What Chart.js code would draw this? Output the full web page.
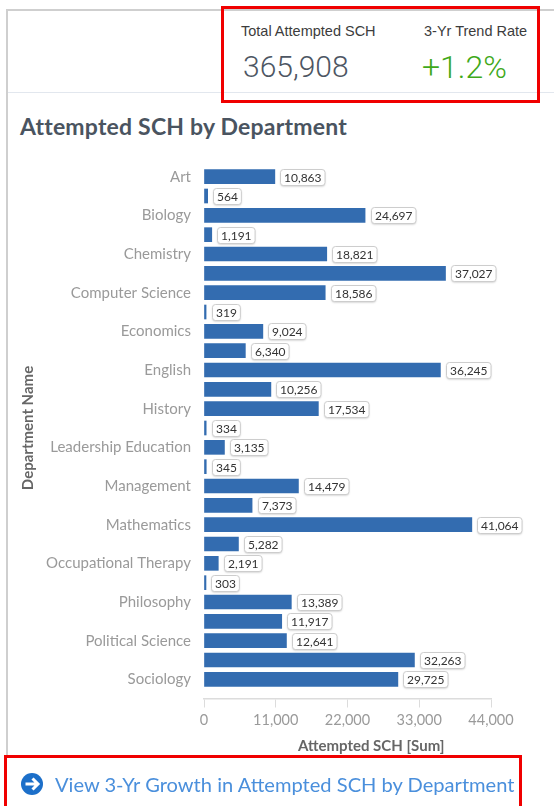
<!DOCTYPE html>
<html>
<head>
<meta charset="utf-8">
<script src="https://cdn.jsdelivr.net/npm/chart.js@4"></script>
<style>
  html, body { margin: 0; padding: 0; background: #fff; }
  body { width: 554px; height: 806px; position: relative; overflow: hidden; font-family: Lato, sans-serif; }
  #chart { position: absolute; left: 0; top: 0; }
  .abs { position: absolute; white-space: nowrap; }
  .panel-top { left: 6px; top: 9px; width: 548px; height: 2px; background: #cfcfcf; }
  .panel-left { left: 6px; top: 9px; width: 2px; height: 747px; background: #cfcfcf; }
  .rule { left: 8px; top: 92px; width: 546px; height: 1px; background: #e2e7ee; }
  .frame { border: 3px solid #f00000; box-sizing: border-box; }
  .kpi-label { font: 14.5px "Liberation Sans", Arial, sans-serif; color: #3c3c3c; }
  .kpi-value { font: 300 31px Roboto, sans-serif; }
  h1 { margin: 0; font: 700 23px Lato, sans-serif; color: #4a5460; letter-spacing: 0.2px; }
  .link { font: 400 20.1px Lato, sans-serif; color: #4a8fdc; }
  .x-title { font: 700 15px Lato, sans-serif; color: #666; }
</style>
</head>
<body>
<div class="abs panel-top"></div>
<div class="abs panel-left"></div>
<div class="abs rule"></div>

<div class="abs kpi-label" style="left:241px;top:23px">Total Attempted SCH</div>
<div class="abs kpi-label" style="left:424px;top:23px">3-Yr Trend Rate</div>
<div class="abs kpi-value" style="left:243px;top:49px;font-size:30px;color:#4d5663">365,908</div>
<div class="abs kpi-value" style="left:422px;top:48px;font-size:32px;color:#3fa91a">+1.2%</div>
<h1 class="abs" style="left:20px;top:112px">Attempted SCH by Department</h1>

<canvas id="chart" width="554" height="806"></canvas>

<div class="abs x-title" style="left:298px;top:736px">Attempted SCH [Sum]</div>

<svg class="abs" style="left:20px;top:772px" width="24" height="24" viewBox="0 0 24 24">
  <circle cx="12" cy="12" r="11" fill="#1c6fc9"/>
  <path d="M5.5 12H17M12.5 6.5L18 12L12.5 17.5" fill="none" stroke="#fff" stroke-width="3"/>
</svg>
<div class="abs link" style="left:55px;top:772px">View 3-Yr Growth in Attempted SCH by Department</div>

<div class="abs frame" style="left:221px;top:6px;width:319px;height:97px"></div>
<div class="abs frame" style="left:4px;top:755px;width:518px;height:60px"></div>

<script>
// Attempted student credit hours per department; the axis names only every other row.
const departments = [
  "Art", "", "Biology", "", "Chemistry", "", "Computer Science", "", "Economics", "",
  "English", "", "History", "", "Leadership Education", "", "Management", "",
  "Mathematics", "", "Occupational Therapy", "", "Philosophy", "", "Political Science", "",
  "Sociology"
];
const attemptedSch = [
  10863, 564, 24697, 1191, 18821, 37027, 18586, 319, 9024, 6340,
  36245, 10256, 17534, 334, 3135, 345, 14479, 7373,
  41064, 5282, 2191, 303, 13389, 11917, 12641, 32263,
  29725
];
const xTickStep = 11000;
const xTickMax = 44000;

// Rounded value tags at the end of each bar.
const valueTags = {
  id: "valueTags",
  afterDatasetsDraw(chart) {
    const ctx = chart.ctx;
    const bars = chart.getDatasetMeta(0).data;
    ctx.save();
    ctx.font = '12px Lato, sans-serif';
    ctx.textAlign = "center";
    ctx.textBaseline = "middle";
    bars.forEach((bar, i) => {
      const text = attemptedSch[i].toLocaleString("en-US");
      const w = ctx.measureText(text).width + 7;
      const h = 16;
      const x = bar.x + 5.5;
      const y = bar.y - h / 2;
      ctx.beginPath();
      ctx.roundRect(Math.round(x) + 0.5, Math.round(y) + 0.5, w, h, 3);
      ctx.fillStyle = "#fff";
      ctx.shadowColor = "rgba(0,0,0,0.22)";
      ctx.shadowBlur = 2;
      ctx.shadowOffsetY = 1;
      ctx.fill();
      ctx.shadowColor = "transparent";
      ctx.strokeStyle = "#cdcdcd";
      ctx.lineWidth = 1;
      ctx.stroke();
      ctx.fillStyle = "#333";
      ctx.fillText(text, Math.round(x) + 0.5 + w / 2, Math.round(y) + 0.5 + h / 2 + 0.5);
    });
    ctx.restore();
  }
};

new Chart(document.getElementById("chart"), {
  type: "bar",
  plugins: [valueTags],
  data: {
    labels: departments,
    datasets: [{
      data: attemptedSch,
      backgroundColor: "#336cb0",
      barThickness: 14
    }]
  },
  options: {
    indexAxis: "y",
    responsive: false,
    animation: false,
    layout: { padding: { left: 19, top: 167, right: 63, bottom: 117 } },
    plugins: { legend: { display: false }, tooltip: { enabled: false } },
    scales: {
      y: {
        grid: { display: false },
        border: { display: false },
        afterFit(scale) { scale.width = 185; },
        ticks: {
          autoSkip: false,
          padding: 5,
          color: "#9a9a9a",
          font: { family: "Lato, sans-serif", size: 15 }
        },
        title: {
          display: true,
          text: "Department Name",
          color: "#666",
          padding: 0,
          font: { family: "Lato, sans-serif", size: 15, weight: "bold" }
        }
      },
      x: {
        axis: "x",
        position: { y: 26.98 },
        min: 0,
        max: xTickMax,
        grid: { drawOnChartArea: false, color: "#dcdcdc", tickLength: 8, lineWidth: 1 },
        border: { color: "#dcdcdc", width: 1.5 },
        ticks: {
          stepSize: xTickStep,
          maxRotation: 0,
          padding: 5,
          color: "#9a9a9a",
          font: { family: "Lato, sans-serif", size: 14.5 },
          callback: v => v.toLocaleString("en-US")
        }
      }
    }
  }
});
</script>
</body>
</html>
